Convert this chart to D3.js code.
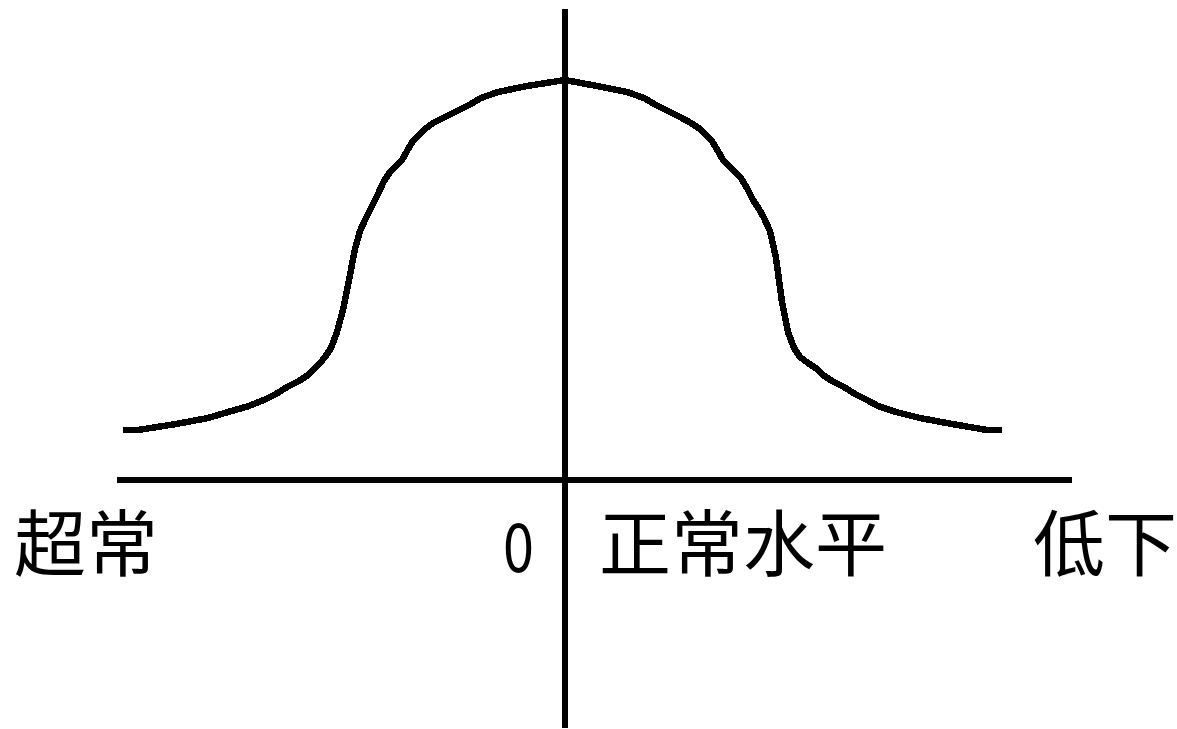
<!DOCTYPE html>
<html>
<head>
<meta charset="utf-8">
<script src="https://cdn.jsdelivr.net/npm/d3@7"></script>
<style>
  html, body { margin: 0; padding: 0; background: #fff; }
  svg { display: block; }
</style>
</head>
<body>
<svg id="chart" width="1177" height="729"></svg>
<script>
// ---- data (abstract units: horizontal deviation, vertical frequency) ----
const curveX = [-4.42,-4.27,-3.89,-3.57,-3.37,-3.16,-3.01,-2.89,-2.78,-2.66,-2.57,-2.51,-2.45,-2.40,-2.34,-2.28,-2.22,-2.16,-2.10,-2.05,-1.99,-1.93,-1.87,-1.81,-1.75,-1.69,-1.63,-1.58,-1.52,-1.46,-1.40,-1.32,-1.20,-1.08,-0.96,-0.84,-0.67,-0.38,0,
  0.32,0.62,0.79,0.91,1.03,1.15,1.26,1.35,1.41,1.47,1.53,1.58,1.64,1.70,1.76,1.82,1.88,1.94,1.99,2.05,2.11,2.17,2.23,2.29,2.35,2.43,2.52,2.58,2.67,2.79,2.90,3.02,3.13,3.31,3.55,3.87,4.22,4.37];
const curveY = [0.50,0.50,0.56,0.62,0.68,0.74,0.80,0.86,0.93,0.99,1.05,1.11,1.17,1.23,1.32,1.48,1.70,2.00,2.31,2.49,2.62,2.74,2.86,2.99,3.08,3.14,3.20,3.29,3.39,3.45,3.51,3.57,3.63,3.69,3.75,3.82,3.88,3.94,4.00,
  3.94,3.88,3.82,3.75,3.69,3.63,3.57,3.51,3.45,3.39,3.29,3.20,3.14,3.08,3.02,2.92,2.80,2.71,2.62,2.49,2.22,1.78,1.48,1.32,1.23,1.17,1.11,1.05,0.99,0.93,0.86,0.80,0.74,0.68,0.62,0.56,0.50,0.50];
const xAxisExtent = [-4.48, 5.07];
const yAxisExtent = [-2.48, 4.71];
const labels = ["超常", "0", "正常水平", "低下"];

// ---- layout ----
const svg = d3.select("#chart");
const x = d3.scaleLinear().domain([-4.48, 5.07]).range([117, 1072]);
const y = d3.scaleLinear().domain([0, 4]).range([480, 80]);

const ink = "#000";
const lw = 5.5;

// axes
svg.append("line")
  .attr("x1", x(xAxisExtent[0])).attr("x2", x(xAxisExtent[1]))
  .attr("y1", y(0)).attr("y2", y(0))
  .attr("stroke", ink).attr("stroke-width", lw)
  .attr("shape-rendering", "crispEdges");
svg.append("line")
  .attr("x1", x(0)).attr("x2", x(0))
  .attr("y1", y(yAxisExtent[1])).attr("y2", y(yAxisExtent[0]))
  .attr("stroke", ink).attr("stroke-width", lw)
  .attr("shape-rendering", "crispEdges");

// curve
const pts = curveX.map((v, i) => [v, curveY[i]]);
const line = d3.line().x(d => x(d[0])).y(d => y(d[1])).curve(d3.curveLinear);
svg.append("path")
  .datum(pts)
  .attr("d", line)
  .attr("fill", "none")
  .attr("stroke", ink)
  .attr("stroke-width", 6.5)
  .attr("stroke-linejoin", "miter")
  .attr("shape-rendering", "crispEdges");

// labels
const labelLayout = [
  { x: 14, anchor: "start", size: 72, sx: 1 },
  { x: 518.5, anchor: "middle", size: 68, sx: 0.82 },
  { x: 599, anchor: "start", size: 72, sx: 1 },
  { x: 1033, anchor: "start", size: 72, sx: 1 }
];
labels.forEach((t, i) => {
  const L = labelLayout[i];
  svg.append("text")
    .attr("transform", `translate(${L.x},${i === 1 ? 542 : 538}) scale(${L.sx},1)`)
    .attr("text-anchor", L.anchor)
    .attr("dominant-baseline", "central")
    .attr("font-family", "'Noto Sans CJK SC', 'Noto Sans', sans-serif")
    .attr("font-size", L.size)
    .attr("fill", ink)
    .text(t);
});
</script>
</body>
</html>
